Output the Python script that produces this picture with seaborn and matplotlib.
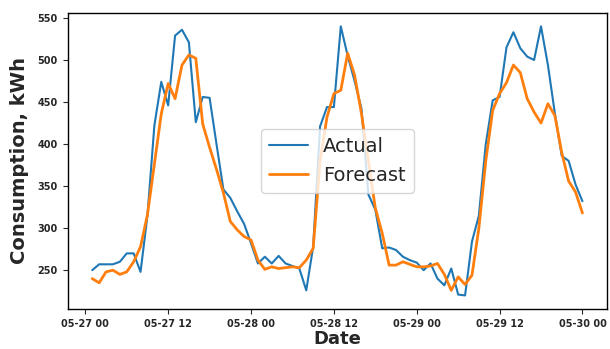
import numpy as np
import pandas as pd
import matplotlib
matplotlib.use("Agg")
import matplotlib.pyplot as plt
import matplotlib.dates as mdates
import seaborn as sns

# Hourly timestamps 05-27 01:00 .. 05-30 00:00
start_time = "2021-05-27 01:00"
n_hours = 72

actual = [250, 257, 257, 257, 260, 270, 270, 248, 315, 422,
          474, 446, 529, 536, 521, 426, 456, 455, 400, 346,
          336, 320, 305, 282, 258, 266, 258, 267, 258, 255,
          252, 226, 278, 421, 444, 444, 540, 505, 475, 442,
          340, 322, 276, 277, 274, 266, 262, 259, 250, 258,
          240, 232, 252, 221, 220, 284, 315, 400, 452, 456,
          515, 533, 514, 504, 500, 540, 494, 437, 386, 380,
          352, 332]

forecast = [240, 235, 248, 250, 245, 248, 260, 278, 316, 376,
            436, 472, 454, 494, 506, 502, 424, 396, 370, 342,
            308, 298, 290, 286, 262, 251, 254, 252, 253, 254,
            253, 262, 276, 380, 432, 460, 464, 508, 482, 436,
            380, 324, 294, 256, 256, 260, 257, 254, 254, 255,
            258, 245, 226, 242, 233, 244, 300, 380, 440, 460,
            473, 494, 485, 454, 438, 425, 448, 434, 390, 356,
            343, 318]

y_ticks = [250, 300, 350, 400, 450, 500, 550]

dates = pd.date_range(start_time, periods=n_hours, freq="h")
df = pd.DataFrame({"Date": dates, "Actual": actual, "Forecast": forecast})

sns.set_style("ticks")
plt.rcParams["font.family"] = ["DejaVu Sans"]

fig = plt.figure(figsize=(6.1, 3.49), dpi=100)
ax = fig.add_axes([0.111, 0.115, 0.884, 0.848])

sns.lineplot(data=df, x="Date", y="Actual", ax=ax, color="#1f77b4",
             linewidth=1.5, label="Actual")
sns.lineplot(data=df, x="Date", y="Forecast", ax=ax, color="#ff7f0e",
             linewidth=2.0, label="Forecast")

ax.set_yticks(y_ticks)
ax.xaxis.set_major_locator(mdates.HourLocator(byhour=[0, 12]))
ax.xaxis.set_major_formatter(mdates.DateFormatter("%m-%d %H"))
for lab in ax.get_xticklabels() + ax.get_yticklabels():
    lab.set_fontsize(7)
    lab.set_fontweight("bold")

ax.set_xlabel("Date", fontsize=13, fontweight="bold", labelpad=1)
ax.set_ylabel("Consumption, kWh", fontsize=14, fontweight="bold", labelpad=6)

for s in ax.spines.values():
    s.set_visible(True)
    s.set_color("black")
    s.set_linewidth(1.0)

ax.legend(loc="center", fontsize=14)

fig.savefig("out.png", dpi=100)
